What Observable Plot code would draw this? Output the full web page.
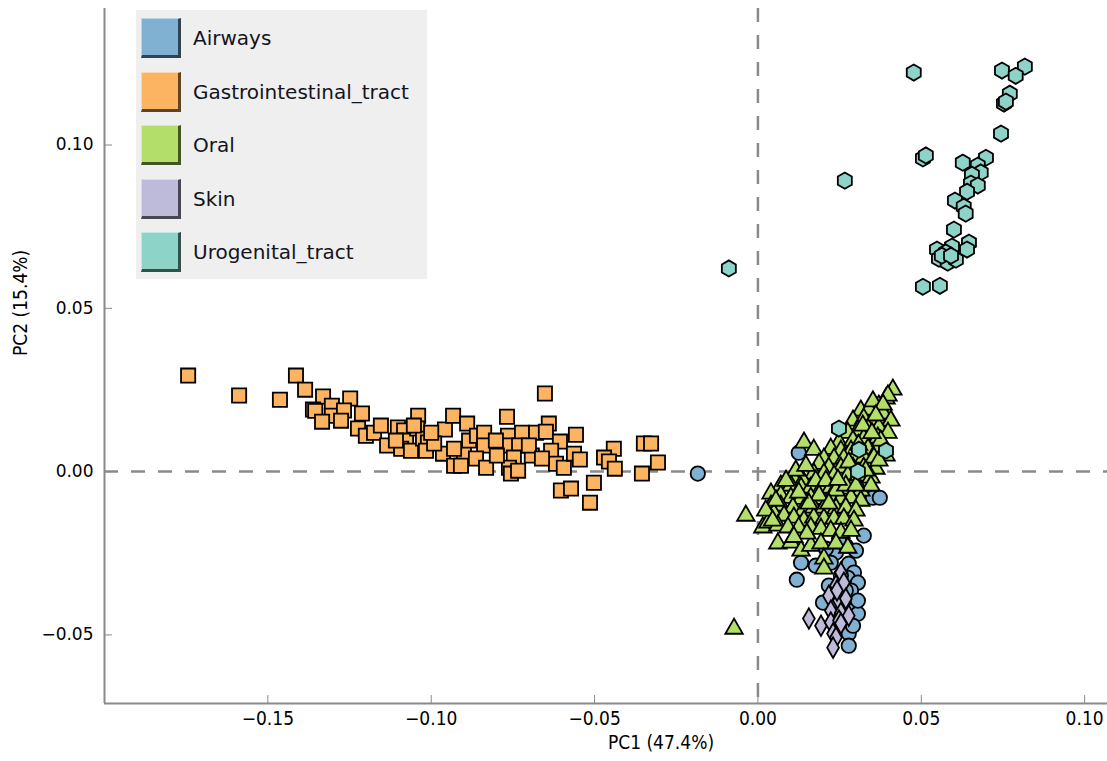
<!DOCTYPE html>
<html>
<head>
<meta charset="utf-8">
<script src="https://cdn.jsdelivr.net/npm/d3@7"></script>
<script src="https://cdn.jsdelivr.net/npm/@observablehq/plot@0.6"></script>
<style>
  html, body { margin: 0; padding: 0; background: #ffffff; }
  #wrap { position: relative; width: 1107px; height: 761px; }
  #legend {
    position: absolute; left: 136px; top: 10px; width: 291px; height: 269px;
    background: #efefef; font-family: "DejaVu Sans", sans-serif; font-size: 20px; color: #141420;
  }
  .item { position: absolute; left: 5px; height: 40px; display: flex; align-items: center; }
  .sw {
    width: 40px; height: 40px; box-sizing: border-box; margin-right: 12px;
    border-top: 1px solid rgba(255,255,255,0.45); border-left: 1px solid rgba(255,255,255,0.45);
    border-bottom: 3px solid rgba(0,0,0,0.62); border-right: 3px solid rgba(0,0,0,0.62);
  }
</style>
</head>
<body>
<div id="wrap"><div id="legend"></div></div>
<script>
// Body sites and their fill colours / marker shapes
const sites = ["Airways", "Gastrointestinal_tract", "Oral", "Skin", "Urogenital_tract"];
const siteColors = ["#80b1d3", "#fdb462", "#b3de69", "#bebada", "#8dd3c7"];

// Axis ticks
const xTicks = [-0.15, -0.10, -0.05, 0.00, 0.05, 0.10];
const yTicks = [-0.05, 0.00, 0.05, 0.10];
const xDomain = [-0.2, 0.107];
const yDomain = [-0.071, 0.1418];

// Sample scores on the first two principal components, [PC1, PC2]
const airways = [
  [-0.0184, -0.0006], [0.0125, 0.0058], [0.0352, -0.0080], [0.0373, -0.0080], [0.0324, -0.0196],
  [0.0239, -0.0248], [0.0132, -0.0279], [0.0119, -0.0331], [0.0177, -0.0288], [0.0223, -0.0279],
  [0.0278, -0.0282], [0.0294, -0.0309], [0.0275, -0.0325], [0.0306, -0.0340], [0.0285, -0.0364],
  [0.0199, -0.0401], [0.0239, -0.0401], [0.0291, -0.0404], [0.0306, -0.0435], [0.0278, -0.0496],
  [0.0278, -0.0533], [0.0239, -0.0465], [0.0263, -0.0395], [0.0306, -0.0395], [0.0254, -0.0318],
  [0.0269, -0.0227], [0.0300, -0.0242], [0.0248, -0.0211], [0.0208, -0.0236], [0.0291, -0.0472],
  [0.0254, -0.0432], [0.0217, -0.0349], [0.0269, -0.0364]
];

const gastro = [
  [-0.1744, 0.0294], [-0.1588, 0.0233], [-0.1463, 0.0220], [-0.1414, 0.0294], [-0.1386, 0.0251],
  [-0.1331, 0.0230], [-0.1362, 0.0190], [-0.1355, 0.0186], [-0.1304, 0.0202], [-0.1304, 0.0171],
  [-0.1334, 0.0153], [-0.1248, 0.0224], [-0.1267, 0.0187], [-0.1212, 0.0178], [-0.1224, 0.0132],
  [-0.1200, 0.0110], [-0.1175, 0.0119], [-0.1154, 0.0141], [-0.1135, 0.0080], [-0.1102, 0.0135],
  [-0.1083, 0.0126], [-0.1077, 0.0095], [-0.1092, 0.0070], [-0.1062, 0.0064], [-0.1040, 0.0171],
  [-0.1043, 0.0132], [-0.1025, 0.0101], [-0.1010, 0.0089], [-0.0964, 0.0055], [-0.0958, 0.0129],
  [-0.0933, 0.0171], [-0.0890, 0.0147], [-0.0900, 0.0058], [-0.0884, 0.0095], [-0.0860, 0.0110],
  [-0.0838, 0.0119], [-0.0838, 0.0080], [-0.0863, 0.0040], [-0.0930, 0.0018], [-0.0909, 0.0018],
  [-0.0832, 0.0012], [-0.1053, 0.0141], [-0.1016, 0.0064], [-0.0991, 0.0086], [-0.0930, 0.0070],
  [-0.0652, 0.0239], [-0.0768, 0.0168], [-0.0640, 0.0147], [-0.0765, 0.0110], [-0.0722, 0.0119],
  [-0.0679, 0.0119], [-0.0649, 0.0122], [-0.0768, 0.0080], [-0.0731, 0.0080], [-0.0606, 0.0092],
  [-0.0557, 0.0113], [-0.0692, 0.0049], [-0.0633, 0.0064], [-0.0747, 0.0043], [-0.0618, 0.0024],
  [-0.0594, 0.0012], [-0.0563, 0.0055], [-0.0545, 0.0037], [-0.0762, 0.0012], [-0.0756, -0.0006],
  [-0.0734, 0.0003], [-0.0441, 0.0070], [-0.0471, 0.0043], [-0.0456, 0.0031], [-0.0438, 0.0009],
  [-0.0355, -0.0006], [-0.0349, 0.0086], [-0.0327, 0.0086], [-0.0306, 0.0028], [-0.0603, -0.0058],
  [-0.0572, -0.0052], [-0.0502, -0.0034], [-0.0514, -0.0095], [-0.0802, 0.0095], [-0.0799, 0.0049],
  [-0.1000, 0.0119], [-0.1108, 0.0095], [-0.1276, 0.0156], [-0.0701, 0.0080], [-0.0661, 0.0040]
];

const oral = [
  [0.0413, 0.0251], [0.0392, 0.0224], [0.0398, 0.0233], [0.0370, 0.0202], [0.0315, 0.0187],
  [0.0340, 0.0190], [0.0383, 0.0178], [0.0407, 0.0156], [0.0291, 0.0156], [0.0324, 0.0162],
  [0.0355, 0.0156], [0.0337, 0.0132], [0.0370, 0.0135], [0.0306, 0.0126], [0.0275, 0.0119],
  [0.0398, 0.0119], [0.0248, 0.0089], [0.0291, 0.0095], [0.0324, 0.0101], [0.0367, 0.0104],
  [0.0141, 0.0089], [0.0171, 0.0067], [0.0223, 0.0070], [0.0254, 0.0064], [0.0285, 0.0064],
  [0.0337, 0.0070], [0.0367, 0.0070], [0.0202, 0.0040], [0.0233, 0.0040], [0.0263, 0.0040],
  [0.0294, 0.0040], [0.0324, 0.0043], [0.0355, 0.0043], [0.0187, 0.0024], [0.0217, 0.0012],
  [0.0254, 0.0012], [0.0291, 0.0012], [0.0324, 0.0012], [0.0361, 0.0009], [0.0171, -0.0006],
  [0.0202, -0.0006], [0.0233, -0.0012], [0.0275, -0.0012], [0.0306, -0.0012], [0.0346, -0.0018],
  [0.0107, -0.0018], [0.0138, -0.0028], [0.0070, -0.0043], [0.0101, -0.0043], [0.0132, -0.0049],
  [0.0162, -0.0049], [0.0193, -0.0052], [0.0223, -0.0049], [0.0254, -0.0049], [0.0285, -0.0052],
  [0.0315, -0.0058], [0.0346, -0.0043], [0.0040, -0.0067], [0.0070, -0.0073], [0.0101, -0.0080],
  [0.0132, -0.0083], [0.0162, -0.0080], [0.0193, -0.0083], [0.0223, -0.0080], [0.0254, -0.0083],
  [0.0285, -0.0080], [0.0315, -0.0089], [0.0040, -0.0104], [0.0070, -0.0104], [0.0107, -0.0110],
  [0.0138, -0.0119], [0.0171, -0.0110], [0.0202, -0.0110], [0.0239, -0.0113], [0.0269, -0.0110],
  [0.0300, -0.0119], [-0.0037, -0.0135], [0.0015, -0.0171], [0.0049, -0.0129], [0.0080, -0.0135],
  [0.0110, -0.0141], [0.0141, -0.0150], [0.0171, -0.0141], [0.0202, -0.0144], [0.0233, -0.0144],
  [0.0263, -0.0144], [0.0294, -0.0150], [0.0031, -0.0156], [0.0061, -0.0165], [0.0092, -0.0171],
  [0.0125, -0.0171], [0.0162, -0.0171], [0.0193, -0.0175], [0.0223, -0.0181], [0.0254, -0.0187],
  [0.0285, -0.0181], [0.0061, -0.0220], [0.0101, -0.0217], [0.0132, -0.0242], [0.0162, -0.0227],
  [0.0193, -0.0220], [0.0239, -0.0220], [0.0275, -0.0233], [0.0202, -0.0266], [0.0202, -0.0297],
  [-0.0073, -0.0481], [0.0116, 0.0003], [0.0147, 0.0018], [0.0177, -0.0028], [0.0208, -0.0028],
  [0.0239, -0.0058], [0.0269, -0.0043], [0.0300, -0.0043], [0.0330, 0.0003], [0.0187, -0.0073],
  [0.0156, -0.0098], [0.0217, -0.0098], [0.0125, -0.0064], [0.0376, 0.0095], [0.0392, 0.0049],
  [0.0370, 0.0034], [0.0086, -0.0028], [0.0055, -0.0089], [0.0024, -0.0119], [0.0352, 0.0215],
  [0.0383, 0.0205], [0.0361, 0.0172], [0.0321, 0.0141], [0.0349, 0.0118], [0.0308, 0.0082],
  [0.0278, 0.0028], [0.0245, -0.0025], [0.0150, -0.0190], [0.0110, -0.0200], [0.0045, -0.0150]
];

const skin = [
  [0.0254, -0.0309], [0.0239, -0.0349], [0.0263, -0.0340], [0.0217, -0.0380], [0.0248, -0.0395],
  [0.0223, -0.0426], [0.0254, -0.0432], [0.0278, -0.0441], [0.0156, -0.0450], [0.0193, -0.0472],
  [0.0223, -0.0462], [0.0248, -0.0456], [0.0230, -0.0496], [0.0239, -0.0508], [0.0230, -0.0539],
  [0.0254, -0.0465], [0.0269, -0.0389], [0.0242, -0.0364]
];

const urogenital = [
  [0.0477, 0.1222], [0.0747, 0.1228], [0.0817, 0.1240], [0.0789, 0.1212], [0.0771, 0.1157],
  [0.0753, 0.1127], [0.0759, 0.1133], [0.0744, 0.1035], [0.0505, 0.0959], [0.0514, 0.0968],
  [0.0627, 0.0946], [0.0698, 0.0961], [0.0673, 0.0937], [0.0682, 0.0916], [0.0655, 0.0909],
  [0.0652, 0.0882], [0.0673, 0.0876], [0.0640, 0.0857], [0.0603, 0.0830], [0.0630, 0.0811],
  [0.0636, 0.0790], [0.0600, 0.0741], [0.0548, 0.0680], [0.0554, 0.0652], [0.0581, 0.0640],
  [0.0594, 0.0689], [0.0606, 0.0649], [0.0646, 0.0701], [0.0640, 0.0680], [0.0575, 0.0671],
  [0.0563, 0.0661], [0.0591, 0.0661], [0.0505, 0.0566], [0.0557, 0.0569], [0.0266, 0.0891],
  [-0.0089, 0.0622], [0.0248, 0.0132], [0.0309, 0.0067], [0.0392, 0.0064], [0.0306, 0.0000]
];

const groups = [
  {data: airways, symbol: "circle", r: 7.2},
  {data: gastro, symbol: "square", r: 8},
  {data: oral, symbol: "triangle", r: 6.5},
  {data: skin, symbol: "diamond", r: 6.2},
  {data: urogenital, symbol: "hexagon", r: 7}
];

const axisGray = "#8a8a8a";
const condensed = "'DejaVu Sans Condensed', 'DejaVu Sans', sans-serif";

const chart = Plot.plot({
  width: 1107,
  height: 761,
  marginLeft: 104,
  marginRight: 0,
  marginTop: 8,
  marginBottom: 58,
  x: {domain: xDomain},
  y: {domain: yDomain},
  style: {background: "#ffffff", overflow: "visible"},
  marks: [
    // reference lines through the origin
    Plot.ruleY([0], {stroke: axisGray, strokeWidth: 2.5, strokeDasharray: "14,13"}),
    Plot.ruleX([0], {stroke: axisGray, strokeWidth: 2.5, strokeDasharray: "14,13"}),
    ...groups.map((g, i) => Plot.dot(g.data, {
      x: d => d[0], y: d => d[1],
      symbol: g.symbol, r: g.r,
      fill: siteColors[i], stroke: "#000000", strokeWidth: 1.8
    })),
    // left and bottom spines
    Plot.ruleX([xDomain[0]], {stroke: axisGray, strokeWidth: 2}),
    Plot.ruleY([yDomain[0]], {stroke: axisGray, strokeWidth: 2}),
    Plot.axisX({
      ticks: xTicks, tickSize: -8, tickPadding: 16, label: null,
      stroke: axisGray, fill: "#000000",
      fontSize: 19, fontFamily: condensed
    }),
    Plot.axisY({
      ticks: yTicks, tickSize: -8, tickPadding: 19, label: null,
      tickFormat: d3.format(".2f"),
      stroke: axisGray, fill: "#000000",
      fontSize: 17, fontFamily: "'DejaVu Sans', sans-serif"
    }),
    Plot.text(["PC1 (47.4%)"], {
      text: d => d, frameAnchor: "bottom", dx: 55, dy: 45,
      fontSize: 19, fontFamily: condensed, fill: "#000000"
    }),
    Plot.text(["PC2 (15.4%)"], {
      text: d => d, frameAnchor: "left", dx: -84, rotate: -90,
      fontSize: 19, fontFamily: condensed, fill: "#000000"
    })
  ]
});

const wrap = document.getElementById("wrap");
wrap.insertBefore(chart, wrap.firstChild);

// Legend box in the upper-left corner of the plot
const legend = document.getElementById("legend");
sites.forEach((name, i) => {
  const item = document.createElement("div");
  item.className = "item";
  item.style.top = (8 + i * 53.5) + "px";
  const sw = document.createElement("div");
  sw.className = "sw";
  sw.style.background = siteColors[i];
  const label = document.createElement("span");
  label.textContent = name;
  item.appendChild(sw);
  item.appendChild(label);
  legend.appendChild(item);
});
</script>
</body>
</html>
